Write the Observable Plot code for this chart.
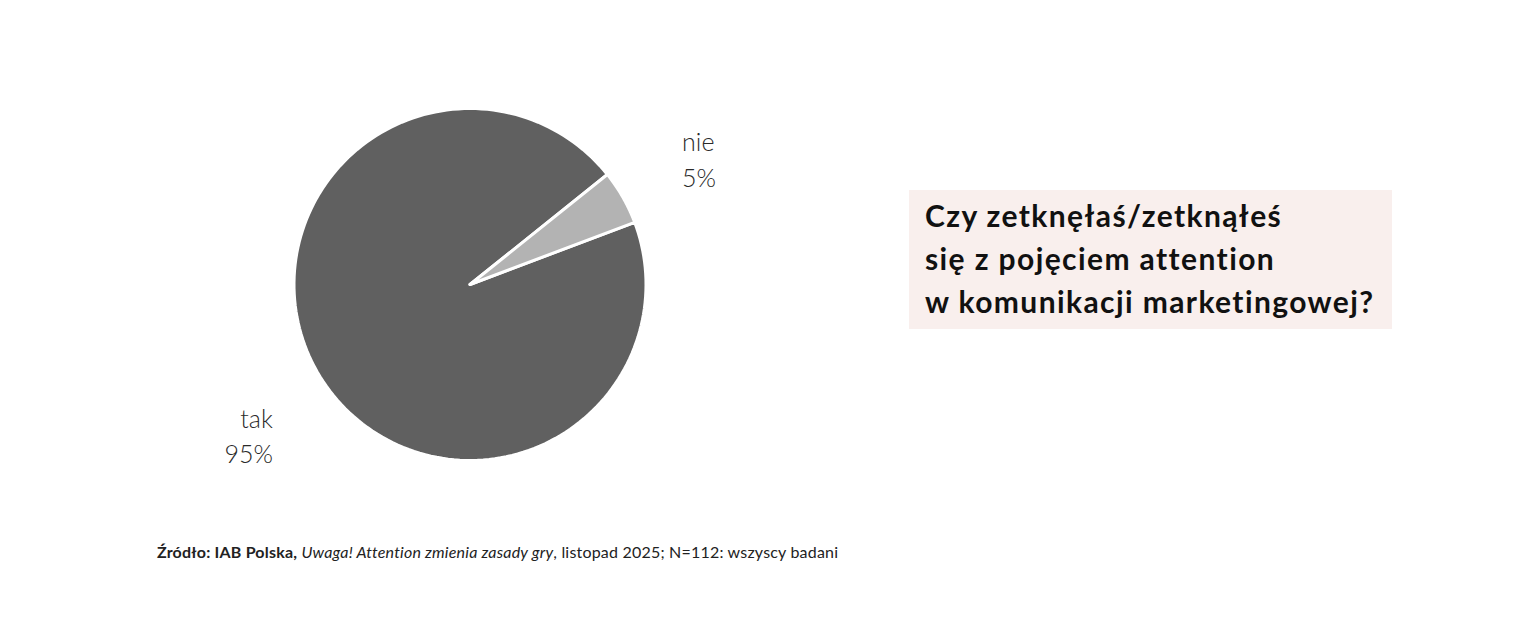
<!DOCTYPE html>
<html><head><meta charset="utf-8">
<script src="https://cdn.jsdelivr.net/npm/d3@7"></script>
<script src="https://cdn.jsdelivr.net/npm/@observablehq/plot@0.6"></script>
<style>
body{margin:0;background:#fff;width:1522px;height:638px;position:relative;overflow:hidden;font-family:Lato,"Open Sans",sans-serif}
#chart{position:absolute;left:0;top:0}
#title{position:absolute;left:909px;top:190px;width:483px;height:139px;background:#f9efed;box-sizing:border-box;padding:4px 0 0 16px;font-weight:700;font-size:30px;line-height:43px;color:#111;letter-spacing:1.4px}
#caption{position:absolute;left:157px;top:542px;font-size:16px;color:#222;white-space:nowrap;letter-spacing:0.2px}
</style></head><body>
<div id="chart"></div>
<div id="title">Czy zetknęłaś/zetknąłeś<br>się z pojęciem attention<br>w komunikacji marketingowej?</div>
<div id="caption"><b>Źródło: IAB Polska,</b> <i>Uwaga! Attention zmienia zasady gry</i>, listopad 2025; N=112: wszyscy badani</div>
<script>
const categories = ["nie", "tak"];
const values = [5, 95];
const labels = ["5%", "95%"];
const colors = ["#b3b3b3", "#606060"];

const startDeg = 51.3;
const pie = d3.pie().sort(null).value(d => d.value)
  .startAngle(startDeg * Math.PI / 180).endAngle((startDeg + 360) * Math.PI / 180);
const data = categories.map((c, i) => ({category: c, value: values[i], label: labels[i]}));
const arcs = pie(data);
const pts = [];
for (const a of arcs) {
  pts.push({category: a.data.category, x: 0, y: 0});
  const n = 180;
  for (let k = 0; k <= n; k++) {
    const t = a.startAngle + (a.endAngle - a.startAngle) * k / n;
    pts.push({category: a.data.category, x: Math.sin(t), y: Math.cos(t)});
  }
  pts.push({category: a.data.category, x: 0, y: 0});
}
const labelPos = [
  {category: "nie", x: 1.205, y: 0.72, name: "nie", pct: "5%"},
  {category: "tak", x: -1.12, y: -0.85, name: "tak", pct: "95%"}
];
const textOpts = {x: "x", y: "y", text: d => d.name + "\n" + d.pct, fontSize: 25, fill: "#2a2a2a", lineHeight: 1.42, fontFamily: "Lato", fontWeight: 300};
const chart = Plot.plot({
  width: 1522, height: 638, margin: 0,
  x: {domain: [-1, 1], range: [293.5, 645.5], axis: null},
  y: {domain: [-1, 1], range: [460, 108], axis: null},
  color: {domain: categories, range: colors},
  marks: [
    Plot.line(pts.filter(d => d.category === "tak"), {x: "x", y: "y", z: "category", fill: "category", stroke: "white", strokeWidth: 3, strokeLinejoin: "round", curve: "linear"}),
    Plot.line(pts.filter(d => d.category === "nie"), {x: "x", y: "y", z: "category", fill: "category", stroke: "white", strokeWidth: 3, strokeLinejoin: "round", curve: "linear"}),
    Plot.text(labelPos.filter(d => d.category === "nie"), {...textOpts, textAnchor: "start"}),
    Plot.text(labelPos.filter(d => d.category === "tak"), {...textOpts, textAnchor: "end"})
  ]
});
document.getElementById("chart").append(chart);
</script>
</body></html>
